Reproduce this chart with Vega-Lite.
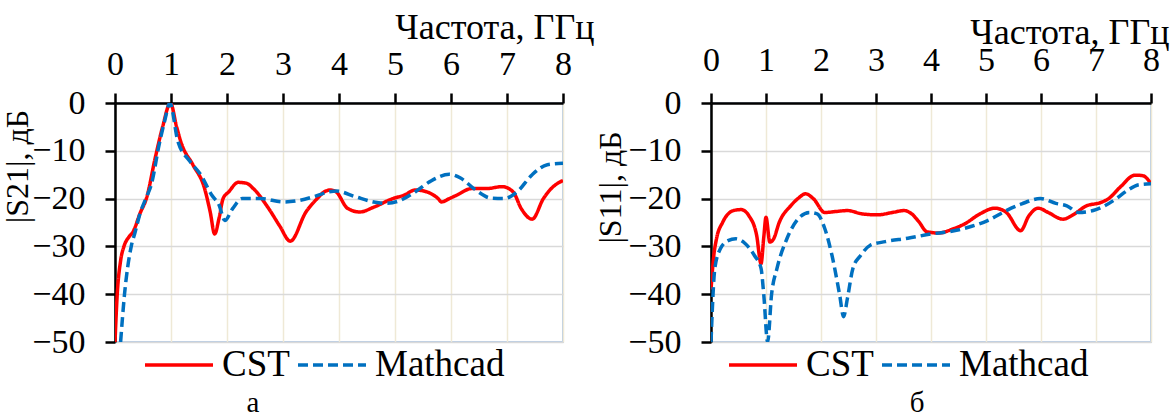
{
  "$schema": "https://vega.github.io/schema/vega-lite/v6.json",
  "background": "white",
  "padding": {"left": 0, "top": 8, "right": 0, "bottom": 0},
  "spacing": -2,
  "align": "none",
  "config": {
    "font": "Liberation Serif",
    "view": {"stroke": "#b8cce4", "strokeWidth": 2},
    "axis": {
      "domainColor": "black", "domainWidth": 2.5, "tickColor": "black", "tickWidth": 2.5, "tickSize": 10
    },
    "axisX": {"gridColor": "#efe9d6", "gridWidth": 1.5},
    "axisY": {"gridColor": "#d9d9d9", "gridWidth": 1.5}
  },
  "resolve": {"legend": {"color": "independent", "strokeDash": "independent"}},
  "hconcat": [
    {
      "width": 448, "height": 239,
      "title": {"text": "а", "dx": -86, "orient": "bottom", "offset": 6, "font": "Liberation Serif", "fontSize": 29, "fontWeight": "normal", "color": "black"},
      "data": {"values": [
        {"f":0,"db":-50,"s":"CST"},{"f":0.04,"db":-40,"s":"CST"},{"f":0.1,"db":-33,"s":"CST"},{"f":0.16,"db":-30,"s":"CST"},{"f":0.25,"db":-28,"s":"CST"},{"f":0.32,"db":-27,"s":"CST"},{"f":0.45,"db":-23,"s":"CST"},{"f":0.56,"db":-20,"s":"CST"},{"f":0.72,"db":-11.4,"s":"CST"},{"f":0.85,"db":-5,"s":"CST"},{"f":0.99,"db":0,"s":"CST"},{"f":1.1,"db":-5,"s":"CST"},{"f":1.19,"db":-8.6,"s":"CST"},{"f":1.39,"db":-12.9,"s":"CST"},{"f":1.6,"db":-17.9,"s":"CST"},{"f":1.7,"db":-22.8,"s":"CST"},{"f":1.78,"db":-27.4,"s":"CST"},{"f":1.86,"db":-24,"s":"CST"},{"f":1.93,"db":-20,"s":"CST"},{"f":2.03,"db":-18.6,"s":"CST"},{"f":2.2,"db":-16.6,"s":"CST"},{"f":2.35,"db":-16.8,"s":"CST"},{"f":2.47,"db":-17.9,"s":"CST"},{"f":2.74,"db":-22,"s":"CST"},{"f":2.94,"db":-25.7,"s":"CST"},{"f":3.13,"db":-28.9,"s":"CST"},{"f":3.41,"db":-22.8,"s":"CST"},{"f":3.61,"db":-20,"s":"CST"},{"f":3.75,"db":-18.5,"s":"CST"},{"f":3.85,"db":-18.2,"s":"CST"},{"f":3.95,"db":-18.6,"s":"CST"},{"f":4.15,"db":-22,"s":"CST"},{"f":4.37,"db":-22.8,"s":"CST"},{"f":4.62,"db":-21.8,"s":"CST"},{"f":4.96,"db":-20,"s":"CST"},{"f":5.16,"db":-19.3,"s":"CST"},{"f":5.36,"db":-18.2,"s":"CST"},{"f":5.57,"db":-18.6,"s":"CST"},{"f":5.77,"db":-20,"s":"CST"},{"f":5.83,"db":-20.7,"s":"CST"},{"f":5.97,"db":-20,"s":"CST"},{"f":6.1,"db":-19.3,"s":"CST"},{"f":6.37,"db":-17.9,"s":"CST"},{"f":6.64,"db":-17.9,"s":"CST"},{"f":6.91,"db":-17.5,"s":"CST"},{"f":7.11,"db":-18.6,"s":"CST"},{"f":7.25,"db":-22,"s":"CST"},{"f":7.45,"db":-24.3,"s":"CST"},{"f":7.65,"db":-20,"s":"CST"},{"f":7.79,"db":-17.9,"s":"CST"},{"f":8,"db":-16.2,"s":"CST"},
        {"f":0.1,"db":-50,"s":"Mathcad"},{"f":0.17,"db":-40,"s":"Mathcad"},{"f":0.29,"db":-30,"s":"Mathcad"},{"f":0.36,"db":-27,"s":"Mathcad"},{"f":0.45,"db":-23,"s":"Mathcad"},{"f":0.55,"db":-20,"s":"Mathcad"},{"f":0.65,"db":-17,"s":"Mathcad"},{"f":0.79,"db":-8.6,"s":"Mathcad"},{"f":0.89,"db":-3.6,"s":"Mathcad"},{"f":0.98,"db":0,"s":"Mathcad"},{"f":1.12,"db":-7.9,"s":"Mathcad"},{"f":1.33,"db":-12.1,"s":"Mathcad"},{"f":1.53,"db":-15,"s":"Mathcad"},{"f":1.73,"db":-19.3,"s":"Mathcad"},{"f":1.86,"db":-21.4,"s":"Mathcad"},{"f":1.96,"db":-24.6,"s":"Mathcad"},{"f":2.1,"db":-22.1,"s":"Mathcad"},{"f":2.27,"db":-20,"s":"Mathcad"},{"f":2.6,"db":-20,"s":"Mathcad"},{"f":3.01,"db":-20.7,"s":"Mathcad"},{"f":3.28,"db":-20.4,"s":"Mathcad"},{"f":3.55,"db":-19.6,"s":"Mathcad"},{"f":3.82,"db":-18.6,"s":"Mathcad"},{"f":3.95,"db":-18.4,"s":"Mathcad"},{"f":4.29,"db":-19.6,"s":"Mathcad"},{"f":4.62,"db":-20.7,"s":"Mathcad"},{"f":4.83,"db":-21,"s":"Mathcad"},{"f":5.09,"db":-20.4,"s":"Mathcad"},{"f":5.36,"db":-18.6,"s":"Mathcad"},{"f":5.63,"db":-16.4,"s":"Mathcad"},{"f":5.97,"db":-14.9,"s":"Mathcad"},{"f":6.17,"db":-15.7,"s":"Mathcad"},{"f":6.44,"db":-18.2,"s":"Mathcad"},{"f":6.71,"db":-19.9,"s":"Mathcad"},{"f":6.95,"db":-20,"s":"Mathcad"},{"f":7.18,"db":-18.6,"s":"Mathcad"},{"f":7.45,"db":-15,"s":"Mathcad"},{"f":7.72,"db":-12.9,"s":"Mathcad"},{"f":8,"db":-12.6,"s":"Mathcad"}
      ]},
      "mark": {"type": "line", "interpolate": "monotone", "strokeWidth": 3.5, "clip": true},
      "encoding": {
        "x": {"field": "f", "type": "quantitative", "scale": {"domain": [0, 8], "nice": false},
          "axis": {"orient": "top", "title": "Частота, ГГц", "values": [0,1,2,3,4,5,6,7,8],
            "labelFont": "Liberation Serif", "labelFontSize": 34, "labelColor": "black", "labelPadding": 12, "labelFlush": false,
            "titleFont": "Liberation Serif", "titleFontSize": 36, "titleColor": "black", "titleFontWeight": "normal",
            "titlePadding": 1, "titleAnchor": "end", "titleAlign": "right", "titleX": 479}},
        "y": {"field": "db", "type": "quantitative", "scale": {"domain": [-50, 0], "nice": false},
          "axis": {"title": "|S21|, дБ", "values": [0,-10,-20,-30,-40,-50],
            "labelFont": "Liberation Serif", "labelFontSize": 34, "labelColor": "black", "labelPadding": 20,
            "titleFont": "Liberation Serif", "titleFontSize": 32, "titleColor": "black", "titleFontWeight": "normal",
            "titlePadding": -3, "titleY": 63, "titleAlign": "center"}},
        "color": {"field": "s", "type": "nominal", "scale": {"domain": ["CST", "Mathcad"], "range": ["#ff0000", "#0070c0"]},
          "legend": {"title": null, "orient": "none", "legendX": 28, "legendY": 226, "direction": "horizontal",
            "labelFont": "Liberation Serif", "labelFontSize": 37, "labelColor": "black",
            "symbolType": "stroke", "symbolSize": 4624, "symbolStrokeWidth": 3.5, "labelOffset": 7, "columnPadding": 1, "padding": 0}},
        "strokeDash": {"field": "s", "type": "nominal", "scale": {"domain": ["CST", "Mathcad"], "range": [[1, 0], [10, 5]]},
          "legend": {"title": null, "orient": "none", "legendX": 28, "legendY": 226, "direction": "horizontal",
            "labelFont": "Liberation Serif", "labelFontSize": 37, "labelColor": "black",
            "symbolType": "stroke", "symbolSize": 4624, "symbolStrokeWidth": 3.5, "labelOffset": 7, "columnPadding": 1, "padding": 0}}
      }
    },
    {
      "width": 440, "height": 239,
      "title": {"text": "б", "dx": -14, "orient": "bottom", "offset": 6, "font": "Liberation Serif", "fontSize": 29, "fontWeight": "normal", "color": "black"},
      "data": {"values": [
        {"f":0,"db":-39,"s":"CST"},{"f":0.05,"db":-32,"s":"CST"},{"f":0.1,"db":-28.4,"s":"CST"},{"f":0.21,"db":-25,"s":"CST"},{"f":0.41,"db":-22.5,"s":"CST"},{"f":0.55,"db":-22.3,"s":"CST"},{"f":0.69,"db":-23.6,"s":"CST"},{"f":0.83,"db":-27.7,"s":"CST"},{"f":0.91,"db":-33.6,"s":"CST"},{"f":0.96,"db":-28,"s":"CST"},{"f":1.0,"db":-23.9,"s":"CST"},{"f":1.07,"db":-29.1,"s":"CST"},{"f":1.14,"db":-28.4,"s":"CST"},{"f":1.24,"db":-25,"s":"CST"},{"f":1.45,"db":-21.5,"s":"CST"},{"f":1.58,"db":-20,"s":"CST"},{"f":1.72,"db":-19,"s":"CST"},{"f":1.86,"db":-20,"s":"CST"},{"f":2.07,"db":-22.9,"s":"CST"},{"f":2.27,"db":-22.7,"s":"CST"},{"f":2.48,"db":-22.5,"s":"CST"},{"f":2.75,"db":-23.2,"s":"CST"},{"f":3.03,"db":-23.4,"s":"CST"},{"f":3.3,"db":-22.9,"s":"CST"},{"f":3.51,"db":-22.5,"s":"CST"},{"f":3.65,"db":-23.2,"s":"CST"},{"f":3.79,"db":-25,"s":"CST"},{"f":3.92,"db":-26.9,"s":"CST"},{"f":4.13,"db":-27.2,"s":"CST"},{"f":4.41,"db":-26.3,"s":"CST"},{"f":4.61,"db":-25.3,"s":"CST"},{"f":4.89,"db":-23.2,"s":"CST"},{"f":5.16,"db":-22,"s":"CST"},{"f":5.37,"db":-22.9,"s":"CST"},{"f":5.63,"db":-26.7,"s":"CST"},{"f":5.78,"db":-23.6,"s":"CST"},{"f":5.95,"db":-22,"s":"CST"},{"f":6.13,"db":-22.9,"s":"CST"},{"f":6.4,"db":-24.3,"s":"CST"},{"f":6.61,"db":-23.2,"s":"CST"},{"f":6.81,"db":-21.6,"s":"CST"},{"f":7.09,"db":-20.8,"s":"CST"},{"f":7.23,"db":-20,"s":"CST"},{"f":7.44,"db":-17.6,"s":"CST"},{"f":7.71,"db":-15.1,"s":"CST"},{"f":7.85,"db":-15.2,"s":"CST"},{"f":8,"db":-16.9,"s":"CST"},
        {"f":0,"db":-50,"s":"Mathcad"},{"f":0.07,"db":-34.6,"s":"Mathcad"},{"f":0.17,"db":-30.5,"s":"Mathcad"},{"f":0.31,"db":-28.8,"s":"Mathcad"},{"f":0.45,"db":-28.4,"s":"Mathcad"},{"f":0.62,"db":-29.4,"s":"Mathcad"},{"f":0.79,"db":-31.9,"s":"Mathcad"},{"f":0.91,"db":-34.6,"s":"Mathcad"},{"f":0.96,"db":-40.2,"s":"Mathcad"},{"f":1.03,"db":-50,"s":"Mathcad"},{"f":1.1,"db":-40.2,"s":"Mathcad"},{"f":1.2,"db":-34.6,"s":"Mathcad"},{"f":1.38,"db":-28.4,"s":"Mathcad"},{"f":1.58,"db":-24.3,"s":"Mathcad"},{"f":1.79,"db":-22.9,"s":"Mathcad"},{"f":1.93,"db":-23.2,"s":"Mathcad"},{"f":2.07,"db":-26.3,"s":"Mathcad"},{"f":2.2,"db":-31.9,"s":"Mathcad"},{"f":2.34,"db":-40.2,"s":"Mathcad"},{"f":2.41,"db":-44.7,"s":"Mathcad"},{"f":2.48,"db":-40.9,"s":"Mathcad"},{"f":2.58,"db":-34.6,"s":"Mathcad"},{"f":2.72,"db":-31.9,"s":"Mathcad"},{"f":2.89,"db":-29.8,"s":"Mathcad"},{"f":3.17,"db":-29,"s":"Mathcad"},{"f":3.58,"db":-28.3,"s":"Mathcad"},{"f":4.0,"db":-27.4,"s":"Mathcad"},{"f":4.34,"db":-26.9,"s":"Mathcad"},{"f":4.68,"db":-26,"s":"Mathcad"},{"f":5.03,"db":-24.6,"s":"Mathcad"},{"f":5.37,"db":-22.5,"s":"Mathcad"},{"f":5.65,"db":-21.1,"s":"Mathcad"},{"f":5.99,"db":-20,"s":"Mathcad"},{"f":6.27,"db":-21,"s":"Mathcad"},{"f":6.47,"db":-21.5,"s":"Mathcad"},{"f":6.68,"db":-22.9,"s":"Mathcad"},{"f":6.95,"db":-22.5,"s":"Mathcad"},{"f":7.16,"db":-21.5,"s":"Mathcad"},{"f":7.37,"db":-20,"s":"Mathcad"},{"f":7.57,"db":-18.3,"s":"Mathcad"},{"f":7.78,"db":-17.1,"s":"Mathcad"},{"f":8,"db":-16.9,"s":"Mathcad"}
      ]},
      "mark": {"type": "line", "interpolate": "monotone", "strokeWidth": 3.5, "clip": true},
      "encoding": {
        "x": {"field": "f", "type": "quantitative", "scale": {"domain": [0, 8], "nice": false},
          "axis": {"orient": "top", "title": "Частота, ГГц", "values": [0,1,2,3,4,5,6,7,8],
            "labelFont": "Liberation Serif", "labelFontSize": 34, "labelColor": "black", "labelPadding": 16, "labelFlush": false,
            "titleFont": "Liberation Serif", "titleFontSize": 36, "titleColor": "black", "titleFontWeight": "normal",
            "titlePadding": -8, "titleAnchor": "end", "titleAlign": "right", "titleX": 458}},
        "y": {"field": "db", "type": "quantitative", "scale": {"domain": [-50, 0], "nice": false},
          "axis": {"title": "|S11|, дБ", "values": [0,-10,-20,-30,-40,-50],
            "labelFont": "Liberation Serif", "labelFontSize": 34, "labelColor": "black", "labelPadding": 20,
            "titleFont": "Liberation Serif", "titleFontSize": 32, "titleColor": "black", "titleFontWeight": "normal",
            "titlePadding": 0, "titleY": 84, "titleAlign": "center"}},
        "color": {"field": "s", "type": "nominal", "scale": {"domain": ["CST", "Mathcad"], "range": ["#ff0000", "#0070c0"]},
          "legend": {"title": null, "orient": "none", "legendX": 16, "legendY": 226, "direction": "horizontal",
            "labelFont": "Liberation Serif", "labelFontSize": 37, "labelColor": "black",
            "symbolType": "stroke", "symbolSize": 4624, "symbolStrokeWidth": 3.5, "labelOffset": 7, "columnPadding": 1, "padding": 0}},
        "strokeDash": {"field": "s", "type": "nominal", "scale": {"domain": ["CST", "Mathcad"], "range": [[1, 0], [10, 5]]},
          "legend": {"title": null, "orient": "none", "legendX": 16, "legendY": 226, "direction": "horizontal",
            "labelFont": "Liberation Serif", "labelFontSize": 37, "labelColor": "black",
            "symbolType": "stroke", "symbolSize": 4624, "symbolStrokeWidth": 3.5, "labelOffset": 7, "columnPadding": 1, "padding": 0}}
      }
    }
  ]
}
